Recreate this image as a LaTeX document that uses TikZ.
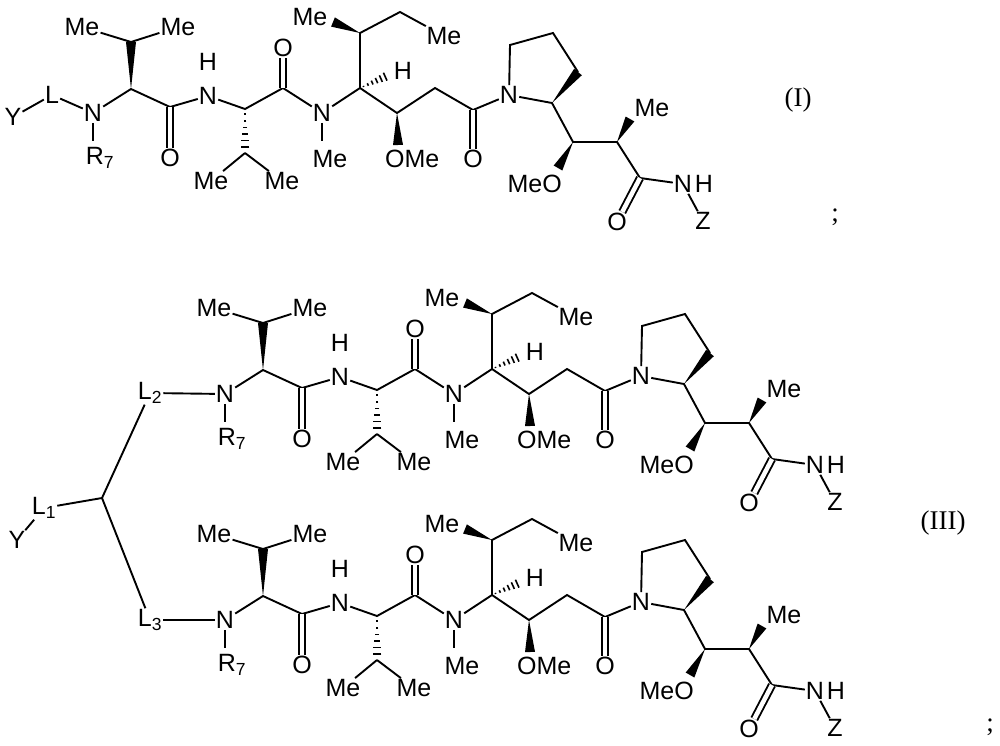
\documentclass[tikz,border=0pt]{standalone}
\usepackage{fontspec}
\setmainfont{Liberation Sans}
\newfontfamily\serifr{Liberation Serif}
\usetikzlibrary{calc}
\tikzset{
  atm/.style={inner sep=1pt, font=\fontsize{25}{26}\selectfont},
  lbl/.style={inner sep=0pt, font=\serifr\fontsize{27}{28}\selectfont},
  dbl/.style={double, double distance=4.5pt, line width=1.9pt},
}
\newcommand\wdg[2]{\fill (#1) -- ($(#2)!5pt!90:(#1)$) -- ($(#2)!5pt!-90:(#1)$) -- cycle;}
\newcommand\hsh[2]{\foreach \t in {0.12,0.27,0.42,0.57,0.72,0.87,1.0}{%
  \path (#1) -- (#2) coordinate[pos=\t] (hp);
  \draw[line width=1.6pt] ($(hp)!{\t*5pt}!90:(#2)$) -- ($(hp)!{\t*5pt}!-90:(#2)$);}}
\newcommand\unit[3]{%
\begin{scope}[shift={(#2,#3)}]
\node[atm] (#1N1) at (93,113) {N};
\coordinate (#1r) at (93,141);
\node[atm] (#1R) at (100,158) {R\textsubscript{7}};
\coordinate (#1CA1) at (131,89);
\coordinate (#1CB1) at (131,42);
\node[atm] (#1Me1a) at (82,27) {Me};
\node[atm] (#1Me1b) at (178,27) {Me};
\coordinate (#1C1) at (170,107);
\node[atm] (#1O1) at (170,158) {O};
\node[atm] (#1N2) at (208,96) {N};
\node[atm] (#1H2) at (208,62) {H};
\coordinate (#1CA2) at (245,109);
\coordinate (#1CB2) at (245,153);
\node[atm] (#1Me2a) at (211,181) {Me};
\node[atm] (#1Me2b) at (282,181) {Me};
\coordinate (#1C2) at (283,88);
\node[atm] (#1O2) at (283,48) {O};
\node[atm] (#1N3) at (322,113) {N};
\coordinate (#1m3) at (322,141);
\node[atm] (#1Me3) at (330,159) {Me};
\coordinate (#1CA3) at (360,88);
\coordinate (#1Hc) at (389,75);
\node[atm] (#1H3) at (403,71) {H};
\coordinate (#1CB3) at (360,33);
\coordinate (#1Mw) at (333,22);
\node[atm] (#1Me4) at (310,17) {Me};
\coordinate (#1CH2a) at (400,12);
\node[atm] (#1Me5) at (444,36) {Me};
\coordinate (#1C4) at (397,113);
\coordinate (#1Ow) at (398,145);
\node[atm, anchor=west] (#1OMe) at (384,159) {OMe};
\coordinate (#1CH2b) at (435,88);
\coordinate (#1C5) at (473,110);
\node[atm] (#1O5) at (473,159) {O};
\node[atm] (#1N4) at (509,95) {N};
\coordinate (#1P2) at (552,103);
\coordinate (#1P3) at (578,72);
\coordinate (#1P4) at (553,33);
\coordinate (#1P5) at (510,45);
\coordinate (#1C6) at (573,142);
\coordinate (#1Ow2) at (558,168);
\node[atm, anchor=east] (#1MeO) at (563,184) {MeO};
\coordinate (#1C7) at (617,142);
\coordinate (#1Mw2) at (630,119);
\node[atm] (#1Me6) at (652,108) {Me};
\coordinate (#1C8) at (640,178);
\node[atm] (#1O8) at (617,222) {O};
\node[atm] (#1N5) at (683,184) {N};
\node[atm] (#1H5) at (704,184) {H};
\node[atm] (#1Z) at (703,221) {Z};
\begin{scope}[line width=1.9pt]
\draw (#1N1) -- (#1r);
\draw (#1N1) -- (#1CA1) -- (#1C1) -- (#1N2) -- (#1CA2) -- (#1C2) -- (#1N3) -- (#1CA3) -- (#1C4) -- (#1CH2b) -- (#1C5) -- (#1N4);
\draw (#1CB1) -- (#1Me1a); \draw (#1CB1) -- (#1Me1b);
\draw (#1CB2) -- (#1Me2a); \draw (#1CB2) -- (#1Me2b);
\draw (#1N3) -- (#1m3);
\draw (#1CA3) -- (#1CB3) -- (#1CH2a) -- (#1Me5);
\draw (#1N4) -- (#1P5) -- (#1P4) -- (#1P3);
\draw (#1N4) -- (#1P2) -- (#1C6) -- (#1C7) -- (#1C8) -- (#1N5);
\draw (#1N5) -- (#1Z);
\draw[dbl] (#1C1) -- (#1O1);
\draw[dbl] (#1C2) -- (#1O2);
\draw[dbl] (#1C5) -- (#1O5);
\draw[dbl] (#1C8) -- (#1O8);
\end{scope}
\wdg{#1CA1}{#1CB1}
\wdg{#1CB3}{#1Mw}
\wdg{#1C4}{#1Ow}
\wdg{#1P2}{#1P3}
\wdg{#1C6}{#1Ow2}
\wdg{#1C7}{#1Mw2}
\hsh{#1CA2}{#1CB2}
\hsh{#1CA3}{#1Hc}
\end{scope}}
\begin{document}
\begin{tikzpicture}[x=1pt,y=-1pt]
\useasboundingbox (0,0) rectangle (1000,745);
\unit{A}{0}{0}
\unit{B}{132}{281}
\unit{C}{132}{507}
% left of (I)
\node[atm] (Y1) at (13,117) {Y};
\node[atm] (L) at (52,95) {L};
\draw[line width=1.9pt] (Y1) -- (L) -- (AN1);
% linker of (III)
\node[atm] (L2) at (150,393) {L\textsubscript{2}};
\node[atm] (L3) at (150,620) {L\textsubscript{3}};
\node[atm] (L1) at (44,508) {L\textsubscript{1}};
\node[atm] (Y2) at (17,540) {Y};
\coordinate (BP) at (102,498);
\draw[line width=1.9pt] (L2) -- (BN1);
\draw[line width=1.9pt] (L3) -- (CN1);
\draw[line width=1.9pt] (L1) -- (BP);
\draw[line width=1.9pt] (BP) -- (L2);
\draw[line width=1.9pt] (BP) -- (L3);
\draw[line width=1.9pt] (Y2) -- (L1);
\node[lbl] (lI) at (798,100) {(I)};
\node[lbl] (s1) at (835,217) {;};
\node[lbl] (lIII) at (943,523) {(III)};
\node[lbl] (s2) at (990,727) {;};
\end{tikzpicture}
\end{document}
